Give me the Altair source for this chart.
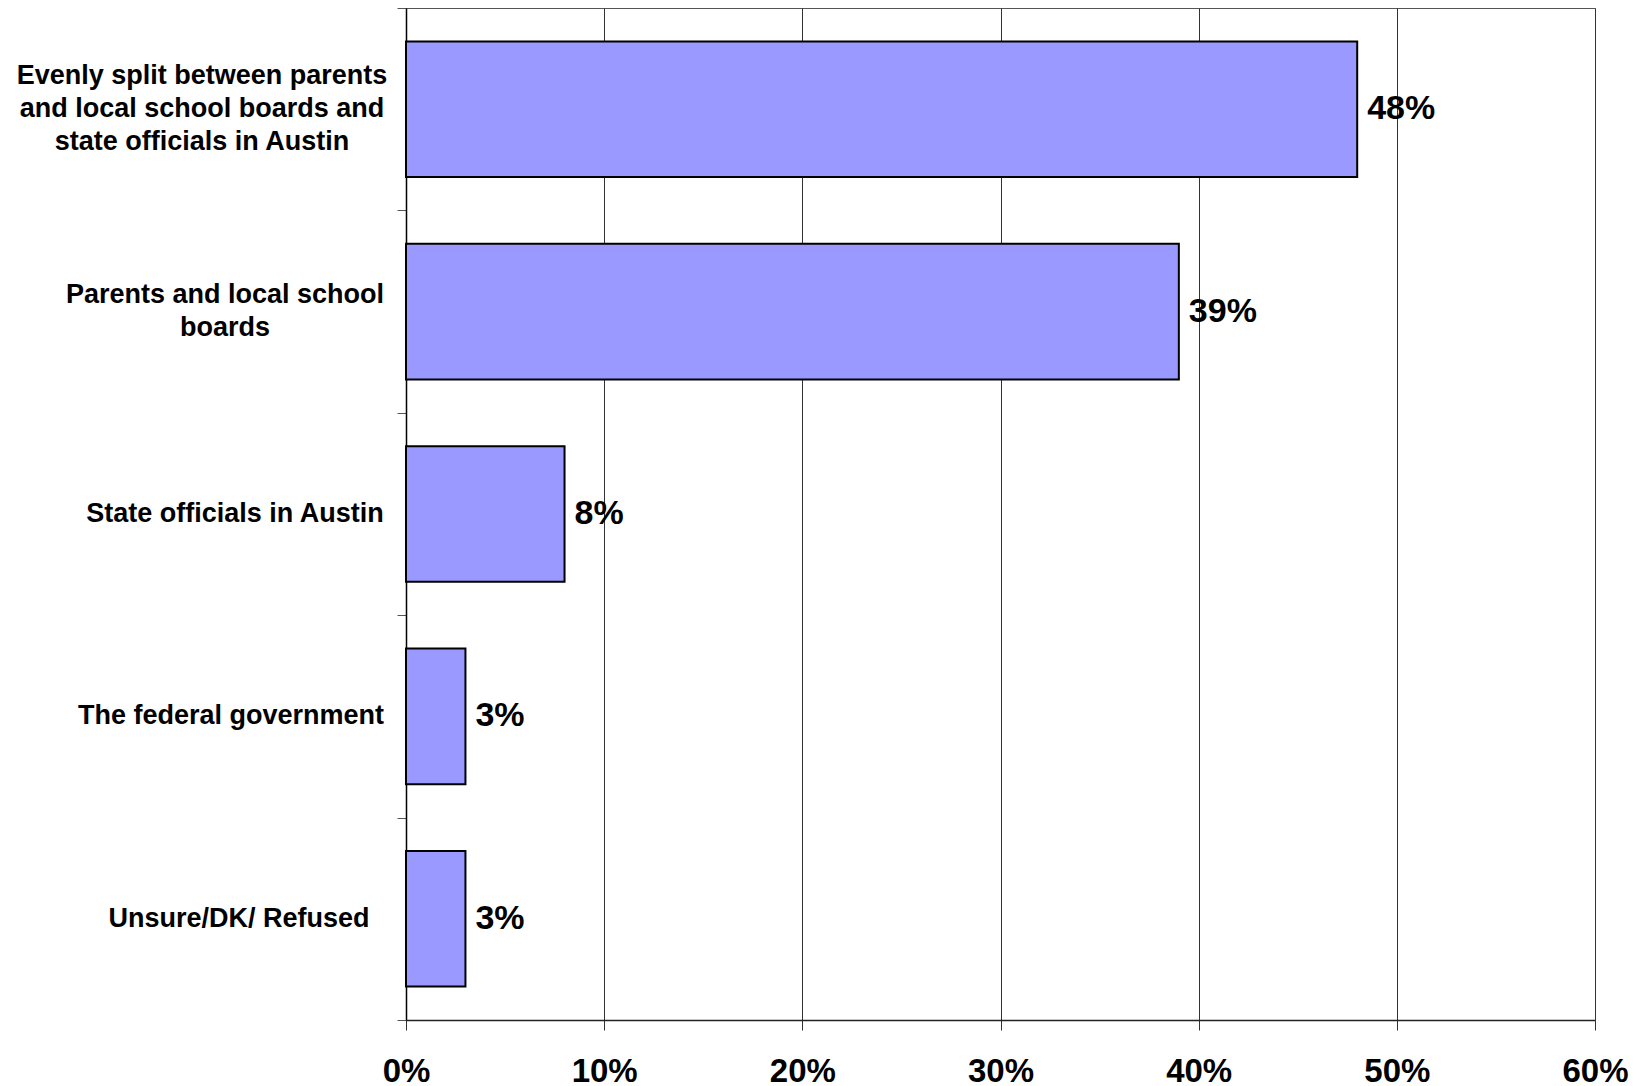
import altair as alt
import pandas as pd

categories = [
    "Evenly split between parents\nand local school boards and\nstate officials in Austin",
    "Parents and local school\nboards",
    "State officials in Austin",
    "The federal government",
    "Unsure/DK/ Refused",
]
values = [48, 39, 8, 3, 3]
value_labels = ["48%", "39%", "8%", "3%", "3%"]
x_ticks = [0, 10, 20, 30, 40, 50, 60]

df = pd.DataFrame({"category": categories, "value": values, "label": value_labels})

FONT = "Liberation Sans"
LINE_H = 33

y_enc = alt.Y(
    "category:N",
    sort=categories,
    title=None,
    scale=alt.Scale(paddingInner=0, paddingOuter=0),
    axis=alt.Axis(
        labels=False,
        tickBand="extent",
        tickSize=9,
        tickColor="#555555",
        domainColor="black",
        domainWidth=1.5,
        grid=False,
    ),
)

x_enc = alt.X(
    "value:Q",
    title=None,
    scale=alt.Scale(domain=[0, 60], nice=False),
    axis=alt.Axis(
        values=x_ticks,
        labelExpr="datum.value + '%'",
        labelFont=FONT,
        labelFontSize=33,
        labelFontWeight="bold",
        labelColor="black",
        labelPadding=25,
        labelFlush=False,
        tickSize=10,
        tickColor="#333333",
        domainColor="#222222",
        domainWidth=1.5,
        grid=True,
        gridColor="#333333",
        gridWidth=1,
        gridOpacity=1,
    ),
)

base = alt.Chart(df).encode(x=x_enc, y=y_enc)

bars = base.mark_bar(
    color="#9999FF", stroke="black", strokeWidth=2, height={"band": 0.67}
)

texts = base.mark_text(
    align="left", baseline="middle", dx=10,
    font=FONT, fontSize=34, fontWeight="bold", color="black"
).encode(text="label:N")

# category labels: centred wrapped text placed left of the axis, as in the original
label_centres = [-204, -181, -171, -175, -167]  # horizontal layout offsets (px from axis)
label_layers = []
for cat, off in zip(categories, label_centres):
    n_lines = cat.count("\n") + 1
    label_layers.append(
        alt.Chart(df)
        .transform_filter(alt.datum.category == cat)
        .mark_text(
            align="center", baseline="middle", lineBreak="\n", lineHeight=LINE_H,
            dy=-(n_lines - 1) * LINE_H / 2,
            font=FONT, fontSize=27, fontWeight="bold", color="black",
        )
        .encode(
            y=alt.Y("category:N", sort=categories),
            x=alt.value(off),
            text="category:N",
        )
    )

chart = alt.layer(bars, texts, *label_layers).properties(
    width=1189,
    height=1012,
    autosize=alt.AutoSizeParams(type="none"),
    padding={"left": 398, "top": 0, "right": 36, "bottom": 70},
    background="white",
).configure_view(stroke="#555555", strokeWidth=1)

chart.save("out.html", embed_options={"renderer": "svg", "actions": False})
